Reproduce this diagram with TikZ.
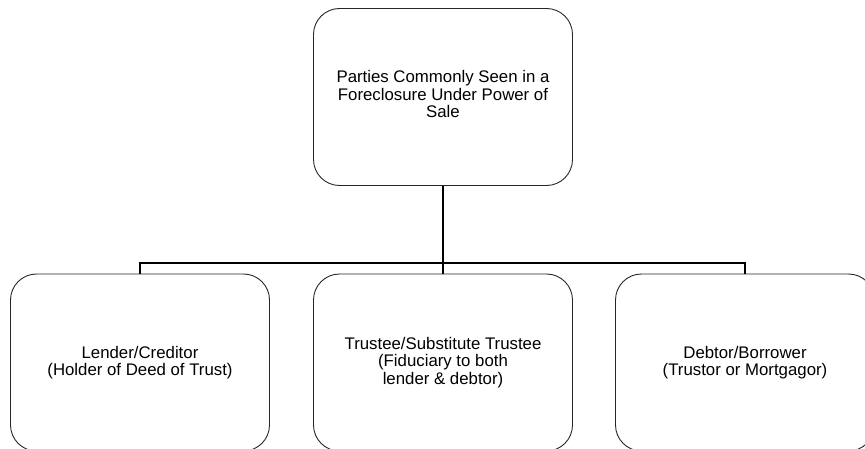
\documentclass[tikz,border=0pt]{standalone}
\usepackage{fontspec}
\setmainfont{Liberation Sans}
\begin{document}
\begin{tikzpicture}[x=1pt,y=-1pt,
  party/.style={draw=black!85, line width=0.9pt, rounded corners=26pt,
    minimum width=259pt, minimum height=177pt, align=center,
    font=\fontsize{16.8}{17.5}\selectfont, inner sep=0pt},
  link/.style={draw=black, line width=2pt}]
\useasboundingbox (0,0) rectangle (865,449);
\begin{scope}
\clip (0,0) rectangle (865,449);
\node[party] (top) at (443,97) {\raisebox{-3pt}{\begin{tabular}{@{}c@{}}Parties Commonly Seen in a\\Foreclosure Under Power of\\Sale\end{tabular}}};
\node[party] (lend) at (140,362.5) {Lender/Creditor\\(Holder of Deed of Trust)};
\node[party] (trus) at (443,362.5) {Trustee/Substitute Trustee\\(Fiduciary to both\\lender \& debtor)};
\node[party] (debt) at (745,362.5) {Debtor/Borrower\\(Trustor or Mortgagor)};
\coordinate (bar) at (443,263);
\draw[link] (top.south) -- (top.south |- bar);
\draw[link] (lend.north) |- (bar) -| (debt.north);
\draw[link] (top.south |- bar) -- (trus.north);
\end{scope}
\end{tikzpicture}
\end{document}
